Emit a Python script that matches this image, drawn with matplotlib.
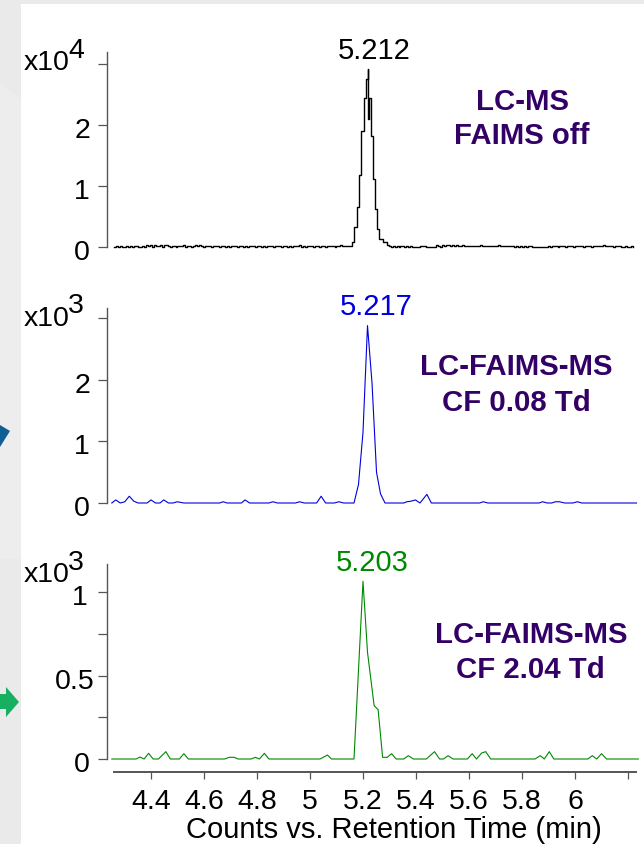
import numpy as np
import matplotlib
matplotlib.use("Agg")
import matplotlib.pyplot as plt
from matplotlib.patches import Polygon, Rectangle
from matplotlib.transforms import ScaledTranslation

plt.rcParams['font.family'] = ['Liberation Sans', 'DejaVu Sans']

# ---- data ----
# Panel 1 (x10^4), step trace
noise_left_start = 4.26
noise_step = 0.0075
noise_left = [12,15,10,18,12,10,16,12,14,10,15,20,12,10,28,12,35,14,30,12,40,20,14,38,12,32,36,14,12,28,
              16,12,24,14,18,30,12,16,26,12,20,34,14,38,16,12,22,14,18,12,16,14,20,12,15,22,13,16,12,20,
              14,18,12,16,22,13,15,12,20,14,17,12,18,22,13,15,12,20,14,16,12,22,14,18,12,15,20,13,17,12,
              16,22,14,30,12,15,10,18,14,20,12,16,24,13,15,28,12,18,14,26,16,12,22,14,30,16]
peak1_t = [5.145, 5.160, 5.167, 5.176, 5.185, 5.194, 5.203, 5.210, 5.219, 5.2195, 5.224, 5.229,
           5.236, 5.245, 5.253, 5.261, 5.276]
peak1_y = [0.015, 0.08, 0.33, 0.66, 1.18, 1.91, 2.44, 2.76, 2.92, 2.11, 2.44, 1.83,
           1.12, 0.63, 0.30, 0.14, 0.09]
noise_right_start = 5.289
noise_right = [30,22,12,28,10,26,12,24,14,12,26,12,14,12,12,12,12,14,28,14,12,12,12,12,12,32,14,12,30,14,
               36,38,14,30,14,34,22,14,30,18,14,24,14,18,28,14,20,30,14,18,26,14,18,24,14,22,30,14,18,24,
               14,20,14,18,12,16,13,20,13,16,13,18,14,13,13,13,13,13,13,13,13,16,13,18,14,16,13,20,14,17,
               13,20,14,16,13,22,14,24,16,13,26,14,18,13,24,16,14,28,16,30,14,20,14,22,13,20,14,17,13,13,
               20,13,13,28,13]

# Panel 2 (x10^3)
t2 = [4.252,4.267,4.284,4.301,4.318,4.335,4.351,4.385,4.400,4.417,4.434,4.448,4.466,4.483,4.499,4.524,
      4.659,4.672,4.687,4.741,4.755,4.772,4.845,4.860,4.877,4.945,4.961,4.978,5.025,5.042,5.059,5.092,
      5.109,5.127,5.166,5.183,5.200,5.217,5.234,5.251,5.266,5.283,5.354,5.365,5.382,5.398,5.415,5.441,
      5.458,5.640,5.654,5.671,5.864,5.878,5.895,5.912,5.926,5.941,5.961,5.992,6.009,6.026,6.232]
y2 = [0,.05,0,.02,.11,.03,0,0,.05,0,0,.05,0,0,.02,0,
      0,.02,0,0,.05,0,0,.02,0,0,.02,0,0,.11,0,0,
      .02,0,0,.30,1.15,2.88,1.95,.50,.15,0,0,.02,.03,.05,0,.14,
      0,0,.02,0,0,.02,0,0,.02,.02,0,0,.02,0,0]

# Panel 3 (x10^3)
t3 = [4.252,4.344,4.358,4.374,4.391,4.408,4.428,4.456,4.473,4.507,4.524,4.541,4.678,4.695,4.714,4.729,
      4.778,4.794,4.809,4.828,4.845,5.038,5.066,5.081,5.166,5.200,5.217,5.242,5.257,5.274,5.291,5.308,
      5.325,5.354,5.371,5.390,5.439,5.470,5.489,5.504,5.521,5.540,5.594,5.612,5.628,5.648,5.663,5.682,
      5.849,5.869,5.884,5.903,5.920,6.049,6.065,6.082,6.100,6.119,6.239]
y3 = [0,0,.012,0,.034,0,0,.044,0,0,.032,0,0,.01,.01,0,
      0,.01,0,.034,0,0,.024,0,0,1.066,.64,.32,.296,.01,.01,.032,
      0,0,.02,0,0,.044,0,0,.02,0,0,.032,0,.036,.044,0,
      0,.02,0,.044,0,0,.02,0,.032,0,0]

x_ticks = [4.4, 4.6, 4.8, 5.0, 5.2, 5.4, 5.6, 5.8, 6.0, 6.2]
x_tick_labels = ['4.4', '4.6', '4.8', '5', '5.2', '5.4', '5.6', '5.8', '6', '']
peak_labels = ['5.212', '5.217', '5.203']
notes = [('LC-MS', 'FAIMS off'), ('LC-FAIMS-MS', 'CF 0.08 Td'), ('LC-FAIMS-MS', 'CF 2.04 Td')]
xlabel = 'Counts vs. Retention Time (min)'

AX = '#555555'; PURPLE = '#330066'; BLUE = '#0000DD'; GREEN = '#008800'
W, H = 644, 845

fig = plt.figure(figsize=(W/100, H/100), dpi=100, facecolor='#EAEAEA')

def fx(x): return x / W
def fy(y): return 1 - y / H

# page decoration on the left strip (kept behind the axes)
fig.add_artist(Rectangle((fx(21), 0), 1 - fx(21), fy(5), transform=fig.transFigure, fc='white', ec='none', zorder=-5))
fig.add_artist(Polygon([(fx(0), fy(85)), (fx(21), fy(100)), (fx(21), fy(560)), (fx(0), fy(560))],
                       transform=fig.transFigure, fc='#EDEDED', ec='none', zorder=-5))
fig.add_artist(Polygon([(fx(0), fy(426)), (fx(10), fy(432)), (fx(0), fy(448))],
                       transform=fig.transFigure, fc='#0F5F94', ec='none', zorder=-4))
fig.add_artist(Polygon([(fx(0), fy(695)), (fx(6), fy(695)), (fx(6), fy(688)), (fx(19), fy(703)),
                        (fx(6), fy(718)), (fx(6), fy(710)), (fx(0), fy(710))],
                       transform=fig.transFigure, fc='#18B060', ec='none', zorder=-4))

# x pixel mapping: 4.4 -> 151 px, 265 px per minute
x_left = 4.4 + (107 - 151) / 265
x_right = 4.4 + (W - 151) / 265

def shift_labels(ax, dxs):
    for lab, dx in zip(ax.get_yticklabels(), dxs):
        lab.set_transform(lab.get_transform() + ScaledTranslation(dx / 100, -2 / 100, fig.dpi_scale_trans))

def make_axes(y0, ytop, scale):
    ax = fig.add_axes([fx(107), fy(y0), fx(W) - fx(107), (y0 - ytop) / H])
    ax.patch.set_alpha(0)
    ax.set_xlim(x_left, x_right)
    ax.set_ylim(0, (y0 - ytop) / scale)
    for s in ('top', 'right', 'bottom'):
        ax.spines[s].set_visible(False)
    ax.spines['left'].set_color(AX)
    ax.spines['left'].set_linewidth(1.0)
    ax.tick_params(axis='y', length=6.5, width=0.9, color=AX, labelsize=20.5, pad=5.8, labelcolor='black')
    ax.set_xticks([])
    return ax

# Panel 1
ax1 = make_axes(248.3, 53, 61.0)
t1 = np.concatenate([noise_left_start + noise_step * np.arange(len(noise_left)),
                     peak1_t,
                     noise_right_start + noise_step * np.arange(len(noise_right))])
v1 = np.concatenate([np.array(noise_left) / 1000, peak1_y, np.array(noise_right) / 1000])
ax1.plot(t1, v1, color='black', lw=1.0, drawstyle='steps-post', clip_on=False)
ax1.set_yticks([0, 1, 2, 3], ['0', '1', '2', ''])
shift_labels(ax1, [0, 0, 0, 0])

# Panel 2
ax2 = make_axes(504, 309, 61.6)
ax2.plot(t2, y2, color=BLUE, lw=0.8, clip_on=False)
ax2.set_yticks([0, 1, 2, 3], ['0', '1', '2', ''])
shift_labels(ax2, [0, 0, 0, 0])

# Panel 3
ax3 = make_axes(760, 565, 166.7)
ax3.plot(t3, y3, color=GREEN, lw=0.8, clip_on=False)
ax3.set_yticks([0, 0.25, 0.5, 0.75, 1], ['0', '', '0.5', '', '1'])
shift_labels(ax3, [0, 0, 5, 0, -2])

ax3.spines['bottom'].set_visible(True)
ax3.spines['bottom'].set_color(AX)
ax3.spines['bottom'].set_linewidth(1.4)
ax3.spines['bottom'].set_position(('outward', 9.1))
ax3.spines['bottom'].set_bounds(4.26, 6.229)
ax3.set_xticks(x_ticks, x_tick_labels)
ax3.tick_params(axis='x', length=5.2, width=0.9, color=AX, labelsize=20.5, pad=6.3)

def ptext(x, y, s, **kw):
    kw.setdefault('va', 'baseline')
    fig.text(fx(x), fy(y), s, **kw)

# multiplier labels
for base_y, exp_y, exp in [(70, 58, '4'), (326, 313, '3'), (581.7, 570, '3')]:
    ptext(24, base_y, 'x10', fontsize=20.5, ha='left')
    ptext(68, exp_y, exp, fontsize=20.5, ha='left')

# peak labels
for (x, y), s, c in zip([(374, 59.3), (376, 315), (372, 571)], peak_labels, ['black', BLUE, GREEN]):
    ptext(x, y, s, fontsize=21, ha='center', color=c)

# annotations
pos = [((522, 110), (521.5, 144)), ((516, 375), (516, 410.7)), ((531.4, 642.7), (530.8, 677.7))]
for (p1, p2), (a, b) in zip(pos, notes):
    ptext(p1[0], p1[1], a, fontsize=21.2, fontweight='bold', color=PURPLE, ha='center')
    ptext(p2[0], p2[1], b, fontsize=21.2, fontweight='bold', color=PURPLE, ha='center')

ptext(394, 838, xlabel, fontsize=21, ha='center')

fig.savefig('out.png', dpi=100, facecolor=fig.get_facecolor())
